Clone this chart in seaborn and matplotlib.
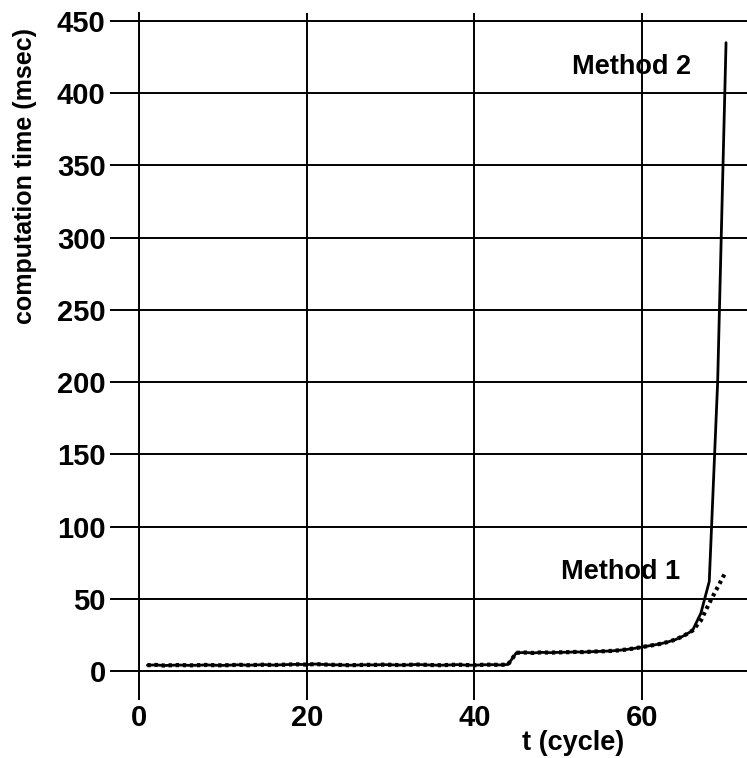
import numpy as np
import pandas as pd
import matplotlib
matplotlib.use("Agg")
import matplotlib.pyplot as plt
import seaborn as sns

# cycle index
t = list(range(1, 71))

# computation time shared by both methods up to cycle 65 (msec)
common = [
    4.0, 4.2, 3.8, 4.0, 4.1, 3.9, 4.0, 4.2, 4.0, 3.9,
    4.1, 4.3, 4.0, 4.2, 4.4, 4.1, 4.3, 4.5, 4.6, 4.4,
    4.8, 4.5, 4.3, 4.2, 4.0, 4.1, 4.3, 4.2, 4.4, 4.3,
    4.1, 4.2, 4.5, 4.3, 4.1, 4.0, 4.2, 4.4, 4.1, 4.0,
    4.3, 4.4, 4.2, 4.5,
    12.6, 12.8, 12.5, 12.9, 12.7, 12.9, 13.0, 13.2, 13.1, 13.4,
    13.6, 13.8, 14.2, 14.8, 15.6, 16.6,
    17.6, 18.6, 20.0, 21.8, 24.5,
]
# cycles 66-70
method1_tail = [28.0, 35.0, 47.0, 58.0, 69.0]
method2_tail = [28.0, 40.0, 62.0, 200.0, 435.0]

method1 = common + method1_tail
method2 = common + method2_tail

x_ticks = [0, 20, 40, 60]
y_ticks = [0, 50, 100, 150, 200, 250, 300, 350, 400, 450]

df = pd.DataFrame({"t": t, "Method 1": method1, "Method 2": method2})

sns.set_theme(style="white")
plt.rcParams["font.family"] = ["Liberation Sans", "DejaVu Sans"]
plt.rcParams["font.weight"] = "bold"
plt.rcParams["text.color"] = "black"
plt.rcParams["axes.labelcolor"] = "black"

W, H = 747, 758
fig = plt.figure(figsize=(W / 100, H / 100), dpi=100)
left, bottom, top = 139, 671, 13
ax = fig.add_axes([left / W, (H - bottom) / H, 1 - left / W, (bottom - top) / H])

sns.lineplot(data=df, x="t", y="Method 2", ax=ax, color="black", lw=2.0)
sns.lineplot(data=df, x="t", y="Method 1", ax=ax, color="black", lw=3.0,
             linestyle=(0, (0.8, 0.9)))

ax.set_xlim(0, 72.5)
ax.set_ylim(0, (bottom - top) / (650 / 450))
ax.set_xticks(x_ticks)
ax.set_yticks(y_ticks)
ax.tick_params(axis="both", which="major", bottom=True, left=True,
               direction="out", length=21, width=1.4, color="black",
               labelsize=21, labelcolor="black", pad=3)
for lab in ax.get_xticklabels() + ax.get_yticklabels():
    lab.set_fontweight("bold")

ax.grid(True, color="black", lw=1.4)
for side in ["top", "right"]:
    ax.spines[side].set_visible(False)
for side in ["left", "bottom"]:
    ax.spines[side].set_color("black")
    ax.spines[side].set_linewidth(1.4)

ax.set_xlabel("t (cycle)", fontsize=19.5, fontweight="bold", color="black")
ax.xaxis.set_label_coords(51.8 / 72.5, -72 / (bottom - top))
ax.xaxis.label.set_va("center")
ax.set_ylabel("computation time (msec)", fontsize=18, fontweight="bold", color="black")
ax.yaxis.set_label_coords(-(left - 25) / (W - left), (bottom - 176) / (bottom - top))
ax.yaxis.label.set_va("center")

ax.text(58.7, 418, "Method 2", fontsize=19.5, fontweight="bold", color="black",
        ha="center", va="center")
ax.text(57.4, 68.5, "Method 1", fontsize=19.5, fontweight="bold", color="black",
        ha="center", va="center")

fig.savefig("out.png", dpi=100)
